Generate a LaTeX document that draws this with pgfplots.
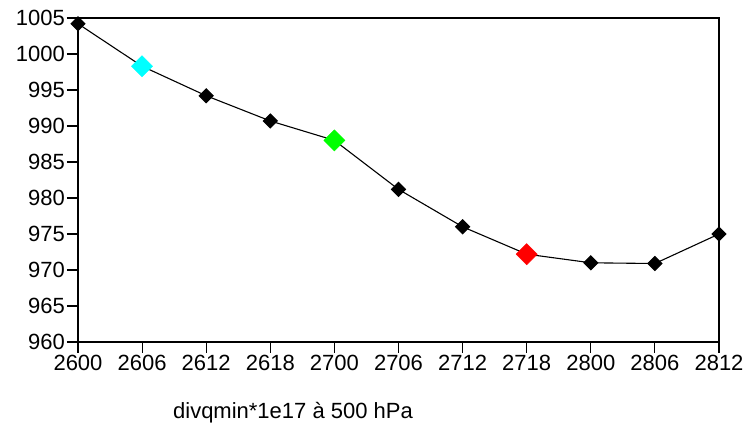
\documentclass[border=0pt]{standalone}
\usepackage{pgfplots}
\pgfplotsset{compat=1.18}
\usepackage{fontspec}
\setmainfont{Liberation Sans}

\definecolor{mkcyan}{RGB}{0,255,255}
\definecolor{mkgreen}{RGB}{0,255,0}
\definecolor{mkred}{RGB}{255,0,0}

\begin{document}
\begin{tikzpicture}
\useasboundingbox (0,0) rectangle (756bp,425bp);
\begin{axis}[
  at={(78bp,83bp)}, anchor=south west,
  scale only axis, width=641bp, height=324bp,
  xmin=0, xmax=10, ymin=960, ymax=1005,
  xtick={0,...,10},
  xticklabels={2600,2606,2612,2618,2700,2706,2712,2718,2800,2806,2812},
  ytick distance=5,
  xtick pos=lower, ytick pos=left,
  tick align=outside,
  major tick length=11bp,
  axis line style={line width=1.1bp},
  every tick/.style={black, line width=1.1bp},
  tick label style={font=\fontsize{22bp}{26bp}\selectfont},
  /pgf/number format/assume math mode=true,
  /pgf/number format/1000 sep={},
  yticklabel style={inner xsep=2bp},
  xticklabel style={inner ysep=2bp},
  clip=false,
]
\addplot[black, line width=1.1bp, mark=square*, mark size=4.9bp,
  mark options={rotate=45, solid}]
  coordinates {
  (0,1004.2) (1,998.3) (2,994.2) (3,990.7) (4,988.0) (5,981.2)
  (6,976.0) (7,972.2) (8,971.0) (9,970.9) (10,975.0)
  };
\addplot[only marks, mark=square*, mark size=7.5bp, mkcyan,
  mark options={rotate=45, draw=mkcyan, fill=mkcyan}]
  coordinates {(1,998.3)};
\addplot[only marks, mark=square*, mark size=7.5bp, mkgreen,
  mark options={rotate=45, draw=mkgreen, fill=mkgreen}]
  coordinates {(4,988.0)};
\addplot[only marks, mark=square*, mark size=7.5bp, mkred,
  mark options={rotate=45, draw=mkred, fill=mkred}]
  coordinates {(7,972.2)};
\end{axis}
\node[anchor=base, font=\fontsize{22bp}{26bp}\selectfont, inner sep=0pt]
  at (293bp,7bp) {divqmin*1e17 à 500 hPa};
\end{tikzpicture}
\end{document}
